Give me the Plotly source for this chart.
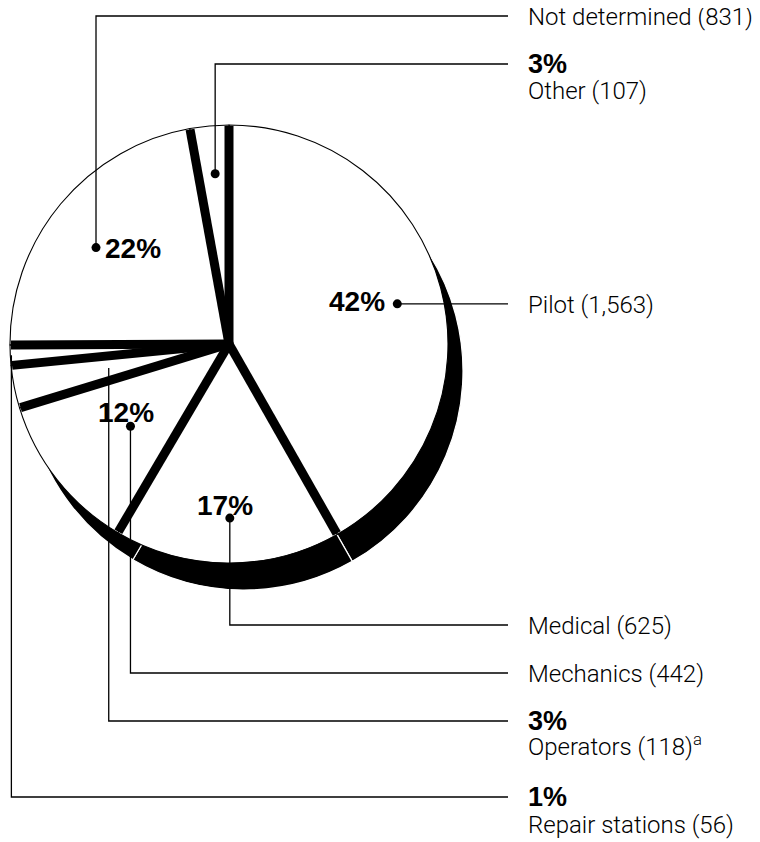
import math
import plotly.graph_objects as go

# ---------------- data ----------------
categories = ["Pilot", "Medical", "Mechanics", "Operators", "Repair stations",
              "Not determined", "Other"]
counts = [1563, 625, 442, 118, 56, 831, 107]
pct_labels = ["42%", "17%", "12%", "3%", "1%", "22%", "3%"]
name_labels = ["Pilot (1,563)", "Medical (625)", "Mechanics (442)",
               "Operators (118)<sup>a</sup>", "Repair stations (56)",
               "Not determined (831)", "Other (107)"]

# ---------------- layout / style ----------------
W, H = 760, 842
PAGE_OFF = 8                       # page body margin of the html
CX, CY, R = 229, 344, 219          # pie centre and radius (page px)
SHX, SHY = 15, 27                  # shadow offset (px)
SEP_W = 9                          # separator width
FONT_B = "Liberation Sans, Arial, sans-serif"
FONT_R = "Roboto, Liberation Sans, Arial, sans-serif"

# callout anchor inside each slice: angle offset (deg) from mid-angle, radius fraction
anchor_dang = [1.4, -0.7, -1.6, 0.0, 0.0, -3.8, 0.5]
anchor_rfrac = [0.79, 0.795, 0.586, 0.56, 0.995, 0.75, 0.78]
has_dot = [True, True, True, False, False, True, True]
pct_inside = [True, True, True, False, False, True, False]
# y (page px) of the horizontal leader segment; None = straight from the dot
leader_y = [None, 625, 673, 721, 797, 16, 64]
name_dy = [1, 1, 1, 24, 28, 1, 27]
LEADER_END_X = 508
LABEL_X = 526

# inside-pct text placement relative to dot: (dx, dy, xanchor)
pct_off = {0: (-10, -2, "right"), 1: (-5, -13, "center"), 2: (-4, -14, "center"),
           5: (7, 1, "left")}


def fx(px):
    return (px - PAGE_OFF) / W


def fy(py):
    return 1 - (py - PAGE_OFF) / H


total = sum(counts)
bounds = [0.0]
for c in counts:
    bounds.append(bounds[-1] + 360.0 * c / total)


def pt(angle_deg, r):
    a = math.radians(angle_deg)
    return CX + r * math.sin(a), CY - r * math.cos(a)


fig = go.Figure()

# black "shadow" pie, offset down/right
fig.add_trace(go.Pie(
    labels=categories, values=counts, sort=False, direction="clockwise", rotation=0,
    domain=dict(x=[fx(CX - R + SHX), fx(CX + R + SHX)],
                y=[fy(CY + R + SHY), fy(CY - R + SHY)]),
    marker=dict(colors=["black"] * len(counts), line=dict(color="white", width=1.2)),
    textinfo="none", hoverinfo="skip", showlegend=False))

# main white pie
fig.add_trace(go.Pie(
    labels=categories, values=counts, sort=False, direction="clockwise", rotation=0,
    domain=dict(x=[fx(CX - R), fx(CX + R)], y=[fy(CY + R), fy(CY - R)]),
    marker=dict(colors=["white"] * len(counts), line=dict(color="black", width=1.1)),
    textinfo="none", hoverinfo="skip", showlegend=False))

shapes = []
# thick separators at slice boundaries
for a in bounds[:-1]:
    x1, y1 = pt(a, R - 1)
    shapes.append(dict(type="line", xref="paper", yref="paper", layer="above",
                       x0=fx(CX), y0=fy(CY), x1=fx(x1), y1=fy(y1),
                       line=dict(color="black", width=SEP_W)))

annotations = []
for i in range(len(counts)):
    mid = (bounds[i] + bounds[i + 1]) / 2 + anchor_dang[i]
    ax, ay = pt(mid, anchor_rfrac[i] * R)
    ly = ay if leader_y[i] is None else leader_y[i]
    path = f"M {fx(ax)},{fy(ay)} L {fx(ax)},{fy(ly)} L {fx(LEADER_END_X)},{fy(ly)}"
    shapes.append(dict(type="path", path=path, xref="paper", yref="paper", layer="above",
                       line=dict(color="black", width=1.3)))
    if has_dot[i]:
        rd = 4.5
        shapes.append(dict(type="circle", xref="paper", yref="paper", layer="above",
                           x0=fx(ax - rd), x1=fx(ax + rd), y0=fy(ay + rd), y1=fy(ay - rd),
                           fillcolor="black", line=dict(color="black", width=0)))
    if pct_inside[i]:
        dx, dy, xa = pct_off[i]
        annotations.append(dict(xref="paper", yref="paper", x=fx(ax + dx), y=fy(ay + dy),
                                xanchor=xa, yanchor="middle", showarrow=False,
                                text=f"<b>{pct_labels[i]}</b>",
                                font=dict(family=FONT_B, size=28, color="black")))
    else:
        annotations.append(dict(xref="paper", yref="paper", x=fx(LABEL_X), y=fy(ly),
                                xanchor="left", yanchor="middle", showarrow=False,
                                text=f"<b>{pct_labels[i]}</b>",
                                font=dict(family=FONT_B, size=27, color="black")))
    annotations.append(dict(xref="paper", yref="paper", x=fx(LABEL_X), y=fy(ly + name_dy[i]),
                            xanchor="left", yanchor="middle", showarrow=False,
                            text=name_labels[i],
                            font=dict(family=FONT_R, size=24, color="black", weight=300)))

fig.update_layout(
    width=W, height=H, margin=dict(l=0, r=0, t=0, b=0),
    paper_bgcolor="white", plot_bgcolor="white", showlegend=False,
    shapes=shapes, annotations=annotations,
)

fig.write_html("out.html")
